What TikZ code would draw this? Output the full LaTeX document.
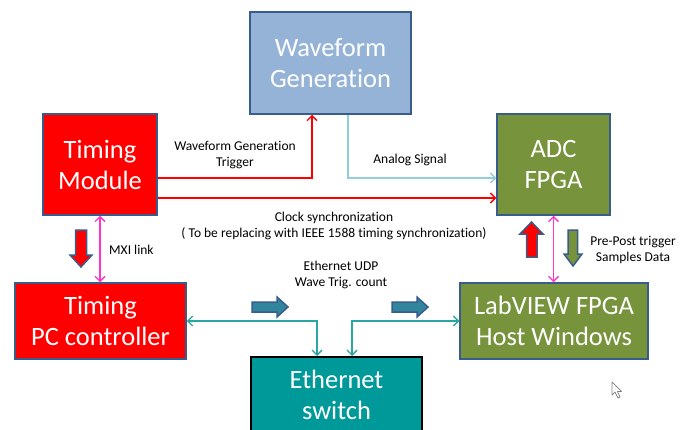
\documentclass[tikz,border=0pt]{standalone}
\usepackage{fontspec}
\setmainfont{Carlito}[Ligatures=NoCommon]
\usetikzlibrary{arrows.meta}
\definecolor{bdr}{HTML}{385D8A}
\definecolor{wfblue}{HTML}{95B3D7}
\definecolor{olive}{HTML}{77933C}
\definecolor{tealbox}{HTML}{009999}
\definecolor{tealline}{HTML}{2AA6A0}
\definecolor{tealarrow}{HTML}{31859C}
\definecolor{ltblue}{HTML}{92CDDC}
\definecolor{magen}{HTML}{FF33CC}
\tikzset{
  box/.style={draw=bdr, line width=1.5pt, inner sep=0pt, align=center, text=white,
    font=\fontsize{26.5}{31}\selectfont},
  lbl/.style={align=center, inner sep=0pt, font=\fontsize{13.5}{16.5}\selectfont},
  tipbarb/.style={-{Straight Barb[length=5pt,width=10pt]}},
  redline/.style={draw=red, line width=1.3pt, tipbarb},
  blueline/.style={draw=ltblue, line width=1.3pt, tipbarb},
  magline/.style={draw=magen, line width=1.3pt, {Straight Barb[length=5pt,width=10pt]}-{Straight Barb[length=5pt,width=10pt]}},
  tealln/.style={draw=tealline, line width=1.3pt, {Straight Barb[length=5pt,width=10pt]}-{Straight Barb[length=5pt,width=10pt]}},
  blockarr/.style={draw=bdr, line width=1.5pt, line join=miter}
}
\begin{document}
\begin{tikzpicture}[x=1pt,y=-1pt]
\useasboundingbox (0,0) rectangle (692,430);
\fill[white] (0,0) rectangle (692,430);
\begin{scope}
\clip (0,0) rectangle (692,430);
% boxes
\node[box, fill=wfblue, minimum width=161pt, minimum height=102pt] (wf) at (330.5,63) {Waveform\\Generation};
\node[box, fill=red, minimum width=114pt, minimum height=101pt] (tm) at (100,164.5) {Timing\\Module};
\node[box, fill=olive, minimum width=113pt, minimum height=101pt] (adc) at (553.5,164.5) {ADC\\FPGA};
\node[box, fill=red, minimum width=171pt, minimum height=76pt] (pc) at (100.5,321) {Timing\\PC controller};
\node[box, fill=olive, minimum width=188pt, minimum height=76pt] (lv) at (554,321) {LabVIEW FPGA\\Host Windows};
\node[box, draw=black, line width=2pt, fill=tealbox, minimum width=171pt, minimum height=90pt] (eth) at (336.5,402) {};
\node[box, draw=none, inner sep=0pt] (ethtxt) at (336.5,395) {Ethernet\\switch};
% connectors
\draw[redline] ([yshift=-13.5pt]tm.east) -| ([xshift=-18.5pt]wf.south);
\draw[redline] ([yshift=-33.5pt]tm.east) -- ([yshift=-33.5pt]adc.west);
\draw[blueline] ([xshift=17.5pt]wf.south) |- ([yshift=-13.5pt]adc.west);
\draw[magline] (tm.south) -- (tm.south |- pc.north);
\draw[magline] (adc.south) -- (adc.south |- lv.north);
\draw[tealln] (pc.east) -| ([xshift=-19.5pt]eth.north);
\draw[tealln] (lv.west) -| ([xshift=15.5pt]eth.north);
\end{scope}
% block arrows
\draw[blockarr, fill=red] (75.5,230) -- (86.5,230) -- (86.5,255) -- (92,255) -- (81,267) -- (70,255) -- (75.5,255) -- cycle;
\draw[blockarr, fill=red] (526.5,257) -- (537,257) -- (537,234) -- (543,234) -- (531.5,222) -- (520,234) -- (526.5,234) -- cycle;
\draw[blockarr, fill=olive] (568,230) -- (577.5,230) -- (577.5,254) -- (582,254) -- (573,266) -- (564,254) -- (568,254) -- cycle;
\draw[blockarr, fill=tealarrow] (252,302) -- (277,302) -- (277,297) -- (288,307) -- (277,317) -- (277,312) -- (252,312) -- cycle;
\draw[blockarr, fill=tealarrow] (392,302) -- (417,302) -- (417,297) -- (428,307) -- (417,317) -- (417,312) -- (392,312) -- cycle;
% labels
\node[lbl] (l1) at (235,155) {Waveform Generation\\Trigger};
\node[lbl] (l2) at (410,160) {Analog Signal};
\node[lbl] (l3) at (334,226) {Clock synchronization\\( To be replacing with IEEE 1588 timing synchronization)};
\node[lbl, anchor=west] (l4) at (109,250) {MXI link};
\node[lbl] (l5) at (341,275) {Ethernet UDP\\Wave Trig. count};
\node[lbl] (l6) at (633,250) {Pre-Post trigger\\Samples Data};
% cursor
\draw[gray, fill=white, line width=0.7pt, line join=round] (612,382) -- (612,395) -- (615,392) -- (618,398) -- (620,397) -- (617.5,391.5) -- (621.5,391.5) -- cycle;
\end{tikzpicture}
\end{document}
